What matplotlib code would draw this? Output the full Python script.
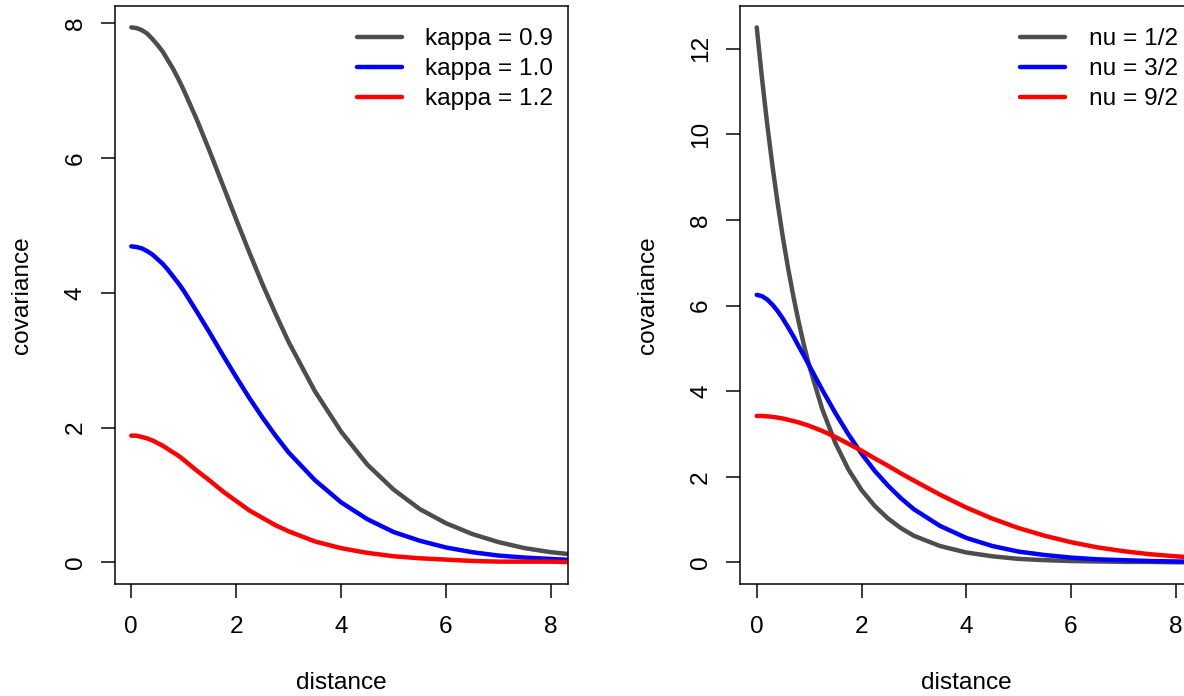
import matplotlib
matplotlib.use('Agg')
import matplotlib.pyplot as plt

plt.rcParams['font.family'] = ['Liberation Sans', 'DejaVu Sans']

# distance grid shared by all curves
dist = [0, 0.1, 0.2, 0.3, 0.4, 0.5, 0.6, 0.7, 0.8, 0.9, 1.0,
        1.25, 1.5, 1.75, 2.0, 2.25, 2.5, 2.75, 3.0,
        3.5, 4.0, 4.5, 5.0, 5.5, 6.0, 6.5, 7.0, 7.5, 8.0, 8.5]

# left panel: covariance for varying kappa
kappa_labels = ['kappa = 0.9', 'kappa = 1.0', 'kappa = 1.2']
cov_k09 = [7.94, 7.93, 7.90, 7.85, 7.77, 7.68, 7.58, 7.45, 7.32, 7.17, 7.01,
           6.57, 6.09, 5.59, 5.09, 4.60, 4.13, 3.69, 3.27,
           2.54, 1.94, 1.45, 1.08, 0.79, 0.58, 0.42, 0.30, 0.21, 0.15, 0.11]
cov_k10 = [4.69, 4.68, 4.66, 4.62, 4.57, 4.50, 4.43, 4.34, 4.24, 4.14, 4.03,
           3.72, 3.40, 3.07, 2.75, 2.44, 2.15, 1.88, 1.63,
           1.22, 0.89, 0.64, 0.45, 0.32, 0.22, 0.15, 0.10, 0.07, 0.05, 0.03]
cov_k12 = [1.88, 1.88, 1.86, 1.84, 1.81, 1.77, 1.73, 1.68, 1.63, 1.58, 1.52,
           1.36, 1.21, 1.05, 0.91, 0.77, 0.66, 0.55, 0.46,
           0.31, 0.21, 0.14, 0.09, 0.06, 0.04, 0.02, 0.01, 0.01, 0.01, 0.00]

# right panel: covariance for varying nu
nu_labels = ['nu = 1/2', 'nu = 3/2', 'nu = 9/2']
cov_nu05 = [12.50, 11.31, 10.23, 9.26, 8.38, 7.58, 6.86, 6.21, 5.62, 5.08, 4.60,
            3.58, 2.79, 2.17, 1.69, 1.32, 1.03, 0.80, 0.62,
            0.38, 0.23, 0.14, 0.08, 0.05, 0.03, 0.02, 0.01, 0.01, 0.00, 0.00]
cov_nu15 = [6.25, 6.22, 6.14, 6.02, 5.87, 5.69, 5.49, 5.28, 5.05, 4.83, 4.60,
            4.03, 3.49, 2.99, 2.54, 2.14, 1.80, 1.50, 1.24,
            0.85, 0.57, 0.38, 0.25, 0.17, 0.11, 0.07, 0.05, 0.03, 0.02, 0.01]
cov_nu45 = [3.42, 3.42, 3.41, 3.40, 3.38, 3.36, 3.33, 3.30, 3.27, 3.23, 3.19,
            3.07, 2.93, 2.77, 2.61, 2.43, 2.26, 2.08, 1.91,
            1.58, 1.28, 1.02, 0.80, 0.62, 0.47, 0.35, 0.26, 0.19, 0.14, 0.10]

colors = ['#4D4D4D', '#0000FF', '#FF0000']
xticks = [0, 2, 4, 6, 8]

FS = 17.6
LW = 1.08


def draw_panel(ax, series, labels, yticks):
  for s, lab, c in zip(series, labels, colors):
    ax.plot(dist, s, color=c, lw=3.2, label=lab,
            solid_capstyle='round', solid_joinstyle='round')
  ymax = max(max(s) for s in series)
  ax.set_xlim(-0.32, 8.32)
  ax.set_ylim(-0.04 * ymax, 1.04 * ymax)
  ax.set_xticks(xticks)
  ax.set_yticks(yticks)
  for sp in ax.spines.values():
    sp.set_linewidth(LW)
  ax.tick_params(direction='out', length=10, width=LW, labelsize=FS)
  ax.tick_params(axis='x', pad=13.2)
  ax.tick_params(axis='y', pad=10, labelrotation=90)
  for t in ax.get_yticklabels():
    t.set_va('center')
  ax.set_xlabel('distance', fontsize=FS, va='baseline')
  ax.xaxis.set_label_coords(0.5, -0.183)
  ax.set_ylabel('covariance', fontsize=FS, va='baseline')
  ax.yaxis.set_label_coords(-0.19, 0.5)
  ax.legend(loc='upper right', bbox_to_anchor=(0.9675, 0.962), frameon=False,
            fontsize=FS, handlelength=1.85, handletextpad=0.95, labelspacing=0.33,
            borderpad=0, borderaxespad=0)


fig = plt.figure(figsize=(11.84, 6.96), dpi=100)
ax1 = fig.add_axes([0.09671, 0.16135, 0.38277, 0.83003])
ax2 = fig.add_axes([0.625, 0.16135, 0.38218, 0.83003])

draw_panel(ax1, [cov_k09, cov_k10, cov_k12], kappa_labels, [0, 2, 4, 6, 8])
draw_panel(ax2, [cov_nu05, cov_nu15, cov_nu45], nu_labels, [0, 2, 4, 6, 8, 10, 12])

fig.savefig('out.png', dpi=100)
